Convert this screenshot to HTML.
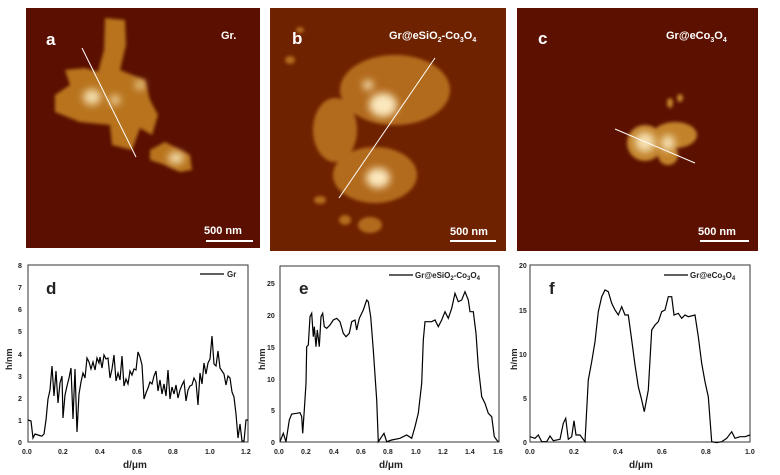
<!DOCTYPE html>
<html><head><meta charset="utf-8"><style>
body{margin:0;width:780px;height:475px;background:#fff;overflow:hidden;font-family:"Liberation Sans",sans-serif}
svg{position:absolute;left:0;top:0}
</style></head><body>
<svg width="780" height="475" viewBox="0 0 780 475" font-family="Liberation Sans, sans-serif">
<defs>
<filter id="bl" x="-50%" y="-50%" width="200%" height="200%"><feGaussianBlur stdDeviation="4"/></filter>
<filter id="bl2" x="-50%" y="-50%" width="200%" height="200%"><feGaussianBlur stdDeviation="1.5"/></filter>
</defs>
<!-- a -->
<rect x="26" y="8" width="234" height="240" fill="#5a0f00"/>
<g filter="url(#bl2)" fill="#b8731c">
<path d="M105 18 L125 20 L126 45 L120 70 L145 80 L150 100 L158 115 L152 135 L140 128 L132 150 L112 145 L110 125 L80 122 L55 112 L55 95 L70 85 L65 70 L85 68 L98 72 L104 50Z"/>
<path d="M150 150 L165 142 L190 155 L192 170 L180 172 L165 165 L150 160Z"/>
</g>
<g filter="url(#bl)" fill="#f3dcaa"><ellipse cx="92" cy="97" rx="9" ry="8"/><ellipse cx="140" cy="85" rx="5" ry="4"/><ellipse cx="115" cy="100" rx="5" ry="5"/><ellipse cx="176" cy="158" rx="8" ry="6"/></g>
<line x1="82" y1="48" x2="136" y2="157" stroke="#fff" stroke-width="1"/>
<text x="46" y="45" fill="#fff" font-size="17" font-weight="bold">a</text>
<text x="221" y="39" fill="#fff" font-size="11" font-weight="bold">Gr.</text>
<text x="204" y="234" fill="#fff" font-size="11" font-weight="bold">500 nm</text>
<rect x="206" y="240" width="47" height="2" fill="#fff"/>
<!-- b -->
<rect x="270" y="8" width="236" height="243" fill="#6e2200"/>
<g filter="url(#bl2)" fill="#b26a1c">
<ellipse cx="395" cy="90" rx="55" ry="35"/><ellipse cx="335" cy="130" rx="22" ry="32"/><ellipse cx="375" cy="175" rx="42" ry="28"/>
<ellipse cx="320" cy="200" rx="6" ry="4"/><ellipse cx="345" cy="220" rx="6" ry="5"/><ellipse cx="370" cy="225" rx="12" ry="8"/><ellipse cx="300" cy="30" rx="4" ry="3"/><ellipse cx="290" cy="60" rx="5" ry="4"/></g>
<g filter="url(#bl)" fill="#fbe8bd"><ellipse cx="383" cy="105" rx="14" ry="12"/><ellipse cx="378" cy="178" rx="12" ry="10"/><ellipse cx="368" cy="85" rx="5" ry="5"/></g>
<line x1="435" y1="58" x2="339" y2="198" stroke="#fff" stroke-width="1"/>
<text x="292" y="44" fill="#fff" font-size="17" font-weight="bold">b</text>
<text x="389" y="39" fill="#fff" font-size="11" font-weight="bold">Gr@eSiO<tspan font-size="7" dy="3">2</tspan><tspan dy="-3">-Co</tspan><tspan font-size="7" dy="3">3</tspan><tspan dy="-3">O</tspan><tspan font-size="7" dy="3">4</tspan></text>
<text x="450" y="235" fill="#fff" font-size="11" font-weight="bold">500 nm</text>
<rect x="450" y="240" width="46" height="2" fill="#fff"/>
<!-- c -->
<rect x="517" y="8" width="241" height="243" fill="#5c1100"/>
<g filter="url(#bl2)" fill="#c2822c"><ellipse cx="645" cy="143" rx="18" ry="18"/><ellipse cx="675" cy="135" rx="22" ry="13"/><ellipse cx="668" cy="155" rx="10" ry="10"/><ellipse cx="670" cy="103" rx="3" ry="5"/><ellipse cx="680" cy="98" rx="3" ry="4"/></g>
<g filter="url(#bl)" fill="#f6e0b0"><ellipse cx="645" cy="142" rx="10" ry="10"/><ellipse cx="668" cy="143" rx="7" ry="8"/></g>
<line x1="615" y1="129" x2="695" y2="163" stroke="#fff" stroke-width="1"/>
<text x="538" y="44" fill="#fff" font-size="17" font-weight="bold">c</text>
<text x="666" y="39" fill="#fff" font-size="11" font-weight="bold">Gr@eCo<tspan font-size="7" dy="3">3</tspan><tspan dy="-3">O</tspan><tspan font-size="7" dy="3">4</tspan></text>
<text x="698" y="235" fill="#fff" font-size="11" font-weight="bold">500 nm</text>
<rect x="700" y="240" width="49" height="2" fill="#fff"/>

<g font-size="7" font-weight="bold" fill="#222">
<!-- d -->
<rect x="28" y="265" width="220" height="177" fill="none" stroke="#333" stroke-width="1"/>
<text x="18" y="445">0</text><text x="18" y="423">1</text><text x="18" y="401">2</text><text x="18" y="379">3</text><text x="18" y="357">4</text><text x="18" y="334">5</text><text x="18" y="312">6</text><text x="18" y="290">7</text><text x="18" y="268">8</text>
<text x="22" y="454">0.0</text><text x="58" y="454">0.2</text><text x="95" y="454">0.4</text><text x="132" y="454">0.6</text><text x="168" y="454">0.8</text><text x="205" y="454">1.0</text><text x="241" y="454">1.2</text>
<text x="123" y="468" font-size="10">d/μm</text>
<text x="12" y="370" font-size="9" transform="rotate(-90 12 370)">h/nm</text>
<text x="46" y="294" font-size="17">d</text>
<line x1="200" y1="274" x2="224" y2="274" stroke="#000" stroke-width="1.3"/><text x="227" y="277" font-size="8">Gr</text>
<polyline fill="none" stroke="#000" stroke-width="1.2" points="28,420 31,421 33,438 35,434 38,435 41,436 42,436 44,434 46,420 48,399 50,390 52,366 54,396 56,371 58,403 60,383 62,376 63,418 65,395 67,386 69,378 71,368 73,419 75,369 77,432 79,394 81,382 83,373 85,378 87,358 89,362 91,369 93,362 95,370 97,358 99,363 100,357 102,368 104,355 106,359 108,358 110,378 112,369 114,355 116,381 118,373 120,380 122,356 124,386 126,379 128,384 130,371 132,375 134,369 136,370 138,352 140,357 142,365 144,399 146,393 148,388 150,382 152,384 154,376 156,371 158,391 160,380 162,394 164,384 166,396 168,370 170,399 172,387 174,394 176,385 178,398 180,390 182,385 184,381 186,401 188,390 190,386 192,385 194,378 196,382 198,405 200,373 202,384 204,363 206,374 208,363 210,359 212,336 214,364 216,366 218,351 220,368 222,371 224,374 226,385 228,376 230,378 232,392 234,397 236,414 238,438 240,424 242,441 244,441 246,420 248,420"/>
<!-- e -->
<rect x="280" y="266" width="219" height="176" fill="none" stroke="#333" stroke-width="1"/>
<text x="271" y="445">0</text><text x="271" y="413">5</text><text x="267" y="382">10</text><text x="267" y="350">15</text><text x="267" y="318">20</text><text x="267" y="286">25</text>
<text x="274" y="454">0.0</text><text x="301" y="454">0.2</text><text x="329" y="454">0.4</text><text x="356" y="454">0.6</text><text x="383" y="454">0.8</text><text x="411" y="454">1.0</text><text x="438" y="454">1.2</text><text x="465" y="454">1.4</text><text x="493" y="454">1.6</text>
<text x="379" y="468" font-size="10">d/μm</text>
<text x="265" y="370" font-size="9" transform="rotate(-90 265 370)">h/nm</text>
<text x="299" y="294" font-size="17">e</text>
<line x1="389" y1="275" x2="413" y2="275" stroke="#000" stroke-width="1.3"/><text x="415" y="278" font-size="8">Gr@eSiO<tspan font-size="6" dy="2">2</tspan><tspan dy="-2">-Co</tspan><tspan font-size="6" dy="2">3</tspan><tspan dy="-2">O</tspan><tspan font-size="6" dy="2">4</tspan></text>
<polyline fill="none" stroke="#000" stroke-width="1.2" points="280,441.7 283.3,433.3 286,441.7 289.3,420 291.7,414 296.7,413.3 300,412.7 301.7,416.7 302.7,433.3 304.3,410 306,383.3 306.7,346.7 308.3,345 310,316.7 311.7,313.3 313.3,336.7 314.3,326.7 316,346.7 317.3,330 319.3,346.7 321,316.7 322.7,313.3 324.3,326.7 326.7,328.3 330,325 333.3,320 336.7,318.3 340,321.7 343.3,333.3 346,336.7 349.3,333.3 351.7,321.7 355,320 356.7,330 359.3,318.3 363.3,310 366.7,300 368.3,301.7 370.7,316.7 373.3,350 376.7,400 378.3,441.7 381.7,436.7 384,433.3 386.7,441.7 391.7,440 400,438.3 406.7,435 411.7,438.3 415,426.7 418.3,413.3 421.7,383.3 423.3,340 425,321.7 431.7,321.7 435,320 438.3,326.7 441.7,320 445,311.7 448.3,318.3 451.7,308.3 455,293.3 458.3,301.7 461.7,300 465,291.7 468.3,300 470,311.7 473.3,311.7 476,333.3 478.3,366.7 481.7,396.7 485,403.3 488.3,413.3 491.7,416.7 494.3,436.7 496.7,440 498.3,441.7"/>
<!-- f -->
<rect x="530" y="265" width="220" height="177" fill="none" stroke="#333" stroke-width="1"/>
<text x="523" y="445">0</text><text x="523" y="401">5</text><text x="519" y="357">10</text><text x="519" y="313">15</text><text x="519" y="268">20</text>
<text x="525" y="454">0.0</text><text x="569" y="454">0.2</text><text x="613" y="454">0.4</text><text x="657" y="454">0.6</text><text x="701" y="454">0.8</text><text x="745" y="454">1.0</text>
<text x="629" y="468" font-size="10">d/μm</text>
<text x="517" y="370" font-size="9" transform="rotate(-90 517 370)">h/nm</text>
<text x="549" y="294" font-size="17">f</text>
<line x1="664" y1="275" x2="688" y2="275" stroke="#000" stroke-width="1.3"/><text x="690" y="278" font-size="8">Gr@eCo<tspan font-size="6" dy="2">3</tspan><tspan dy="-2">O</tspan><tspan font-size="6" dy="2">4</tspan></text>
<polyline fill="none" stroke="#000" stroke-width="1.2" points="530,436.7 535,438.3 538.3,435 541.7,441.7 546.7,441.7 550,436 553.3,440.7 560,439.3 563.3,423.3 565.7,418.3 568.3,439.3 571.7,436.7 574,420.7 576,435 580,435 585,441.7 588.3,380 591.7,361.7 595,341.7 598.3,311.7 601.7,296.7 605,290 608.3,291.7 611.7,303.3 615,310 618.3,315 621.7,306.7 625,315 628.3,315 631.7,340 635,365 638.3,386.7 641.7,400 644.3,411.7 648.3,390 651.7,330 655,325 658.3,321.7 661.7,311.7 665,310 668.3,296.7 671.7,296.7 674,315 678.3,313.3 681.7,318.3 685,315 688.3,316.7 695,315 698.3,336.7 701.7,363.3 705,381.7 708.3,396.7 711.7,441.7 716.7,442.7 721.7,441.7 726.7,438.3 731.7,431.7 735,438.3 740,436.7 745,436.7 750,435"/>
</g>
</svg>
</body></html>
